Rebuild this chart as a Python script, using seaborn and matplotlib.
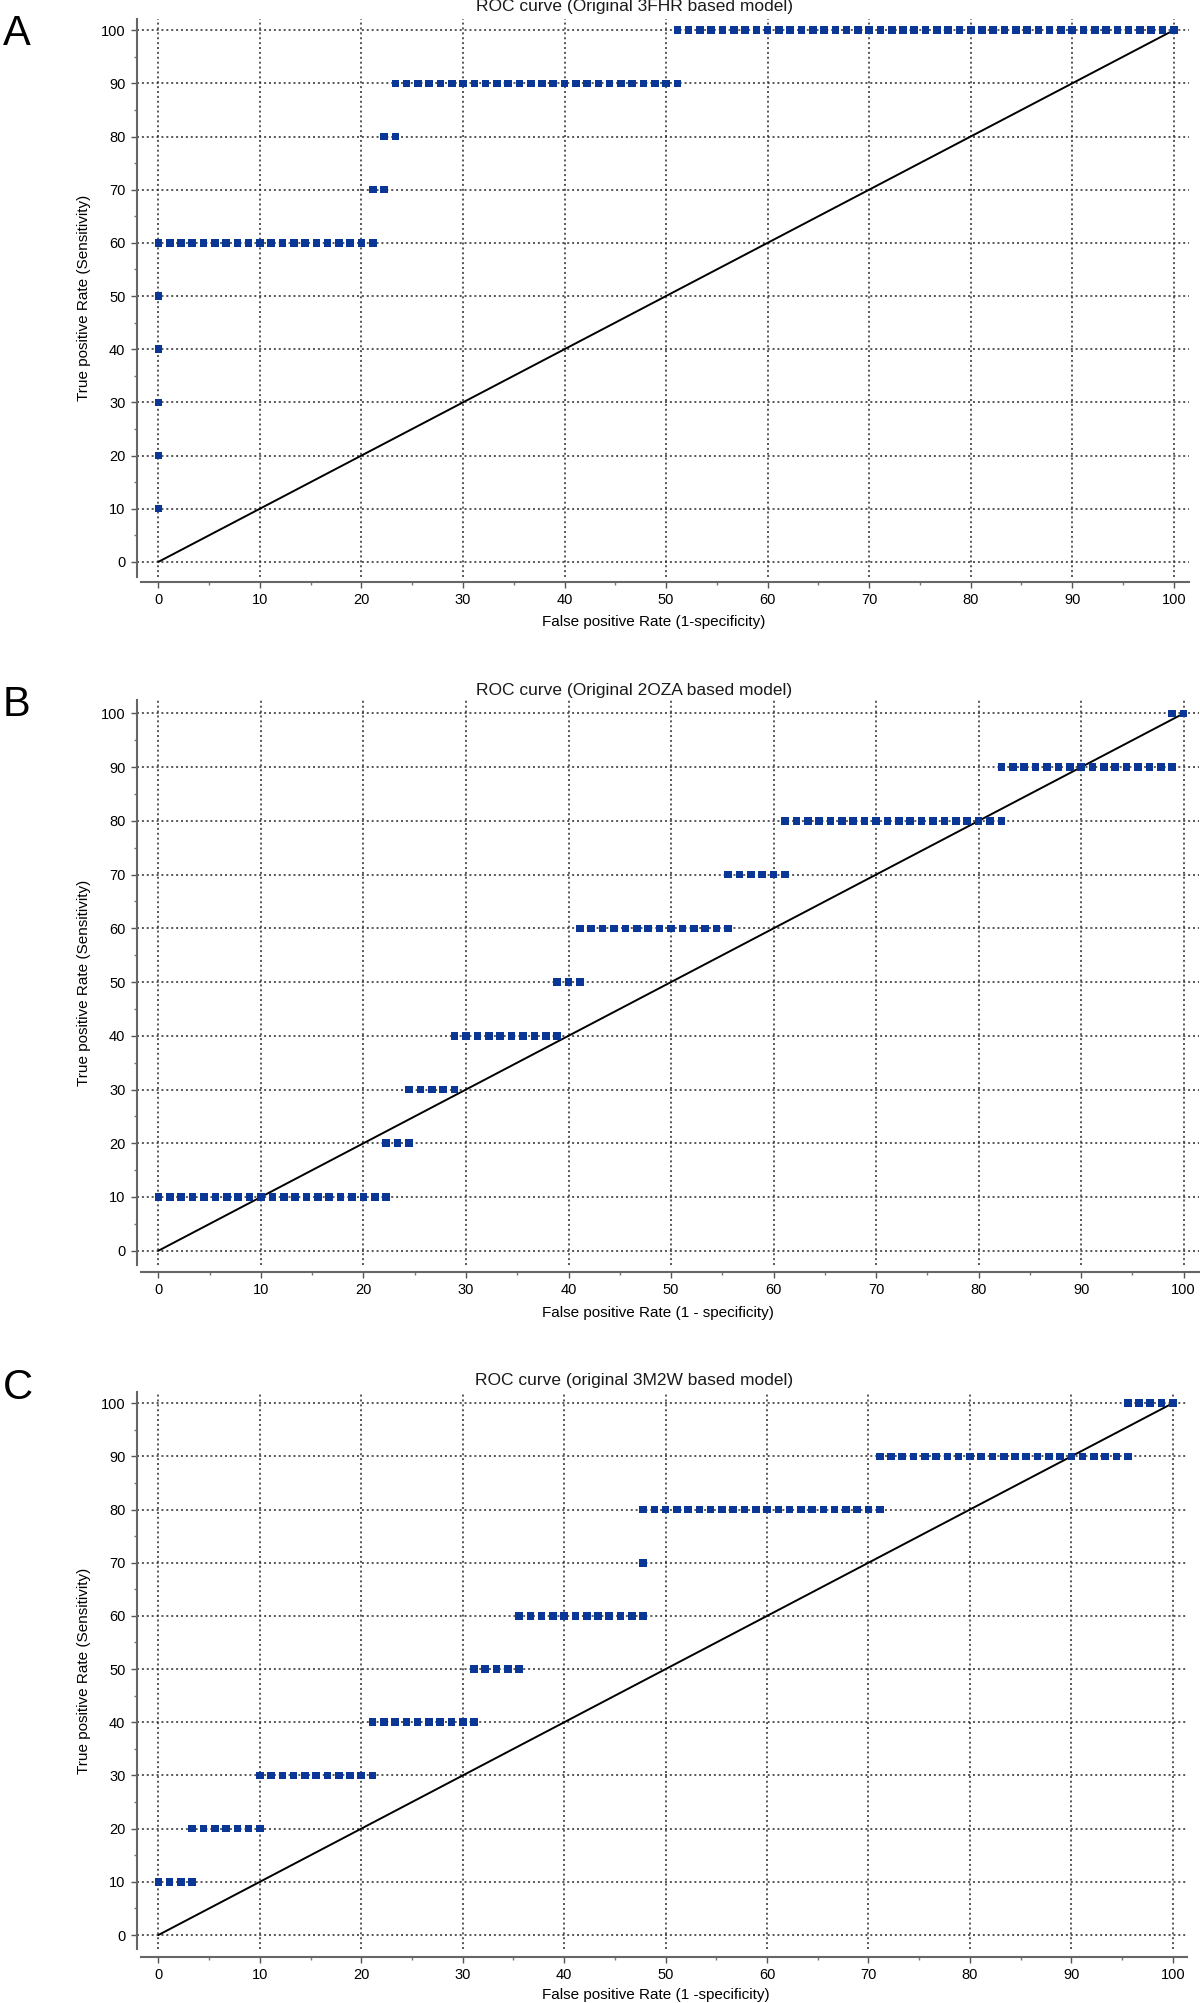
import numpy as np
import pandas as pd
import matplotlib
matplotlib.use("Agg")
import matplotlib.pyplot as plt
import seaborn as sns
from matplotlib.ticker import MultipleLocator

# ROC data: each sensitivity level is reached over a run of false-positive counts
# (90 negatives -> FPR = count / 90 * 100)
n_negatives = 90
tpr_levels = [10, 20, 30, 40, 50, 60, 70, 80, 90, 100]

a_fp_first = [0, 0, 0, 0, 0, 0, 19, 20, 21, 46]
a_fp_last = [0, 0, 0, 0, 0, 19, 20, 21, 46, 90]

b_fp_first = [0, 20, 22, 26, 35, 37, 50, 55, 74, 89]
b_fp_last = [20, 22, 26, 35, 37, 50, 55, 74, 89, 90]

c_fp_first = [0, 3, 9, 19, 28, 32, 43, 43, 64, 86]
c_fp_last = [3, 9, 19, 28, 32, 43, 43, 64, 86, 90]

titles = ["ROC curve (Original 3FHR based model)",
          "ROC curve (Original 2OZA based model)",
          "ROC curve (original 3M2W based model)"]
xlabels = ["False positive Rate (1-specificity)",
           "False positive Rate (1 - specificity)",
           "False positive Rate (1 -specificity)"]
ylabel = "True positive Rate (Sensitivity)"
letters = ["A", "B", "C"]
diag = [0, 100]


def roc_points(first, last):
    rows = []
    for level, f0, f1 in zip(tpr_levels, first, last):
        for fp in range(f0, f1 + 1):
            rows.append((fp / n_negatives * 100, level))
    return pd.DataFrame(rows, columns=["fpr", "tpr"])


panels = [roc_points(a_fp_first, a_fp_last),
          roc_points(b_fp_first, b_fp_last),
          roc_points(c_fp_first, c_fp_last)]

sns.set_theme(style="white")
plt.rcParams["font.family"] = ["Liberation Sans", "DejaVu Sans"]

W, H = 1200, 2003
fig = plt.figure(figsize=(W / 100, H / 100), dpi=100)

# pixel boxes of the plot areas: left, top, right, bottom
boxes = [(136.6, 19, 1189, 577), (136.6, 700, 1199, 1265), (136.6, 1392, 1187, 1949)]
xlims = [(-2.15, 101.5), (-2.13, 101.5), (-2.15, 101.4)]
ylims = [(-2.85, 102.1), (-2.66, 102.5), (-2.63, 102.1)]
spine_out = [5, 7, 8]
title_base = [11, 695, 1385]
xlabel_base = [626, 1317, 1999]
letter_y = [34, 705, 1388]

for i, df in enumerate(panels):
    l, t, r, b = boxes[i]
    ax = fig.add_axes([l / W, 1 - b / H, (r - l) / W, (b - t) / H])
    ax.set_axisbelow(True)
    ax.grid(True, which="major", linestyle=(0, (1.3, 1.9)), color="#2a2a2a", linewidth=1.1)

    sns.lineplot(x=diag, y=diag, color="black", linewidth=1.4, ax=ax)
    sns.scatterplot(data=df, x="fpr", y="tpr", marker="s", s=30, color="#0a3796",
                    edgecolor="none", ax=ax, zorder=3)

    ax.set_xlim(*xlims[i])
    ax.set_ylim(*ylims[i])
    ax.xaxis.set_major_locator(MultipleLocator(10))
    ax.yaxis.set_major_locator(MultipleLocator(10))
    ax.xaxis.set_minor_locator(MultipleLocator(5))
    ax.yaxis.set_minor_locator(MultipleLocator(5))
    ax.tick_params(which="major", direction="out", length=4, width=1, color="#555",
                   labelsize=10.5, labelcolor="black", pad=4, bottom=True, left=True)
    ax.tick_params(which="minor", direction="out", length=2.5, width=1, color="#777",
                   bottom=True, left=True)

    for side in ["top", "right"]:
        ax.spines[side].set_visible(False)
    for side in ["left", "bottom"]:
        ax.spines[side].set_color("#666")
        ax.spines[side].set_linewidth(1.5)
    ax.spines["bottom"].set_position(("outward", spine_out[i] * 0.72))
    ax.spines["bottom"].set_bounds(-1.7, xlims[i][1])

    ax.set_xlabel("")
    ax.set_ylabel(ylabel, fontsize=11, color="black")
    ax.yaxis.set_label_coords((91 - l) / (r - l), 0.5)

    fig.text(634 / W, 1 - title_base[i] / H, titles[i], ha="center", va="baseline",
             fontsize=12.5, color="#1a1a1a")
    fig.text(542 / W, 1 - xlabel_base[i] / H, xlabels[i], ha="left", va="baseline",
             fontsize=11, color="black")
    fig.text(3 / W, 1 - letter_y[i] / H, letters[i], ha="left", va="center",
             fontsize=30, color="black")

fig.savefig("out.png", dpi=100, facecolor="white")
